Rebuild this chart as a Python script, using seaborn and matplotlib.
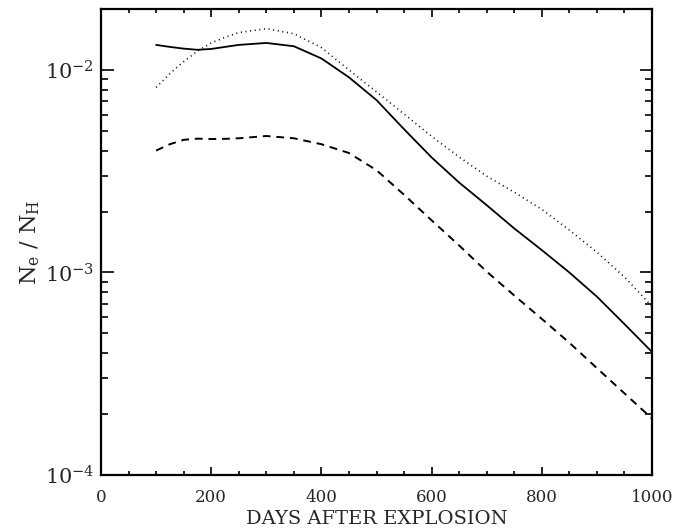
import numpy as np
import pandas as pd
import matplotlib
matplotlib.use("Agg")
import matplotlib.pyplot as plt
import matplotlib.ticker as mticker
import seaborn as sns

# values (days after explosion vs Ne/NH)
days = [100, 125, 150, 175, 200, 225, 250, 300, 350, 400, 450, 500, 550, 600,
        650, 700, 750, 800, 850, 900, 950, 1000]
solid = [0.0133, 0.0130, 0.01275, 0.01258, 0.0127, 0.0130, 0.0133, 0.0136, 0.0131,
         0.0114, 0.0092, 0.0071, 0.0051, 0.0037, 0.00278, 0.00215, 0.00165,
         0.00129, 0.00100, 0.00076, 0.000556, 0.000405]
dotted = [0.0082, 0.0096, 0.0110, 0.0124, 0.0136, 0.0145, 0.0153, 0.0160, 0.0151,
          0.0129, 0.0100, 0.0078, 0.00606, 0.0047, 0.00372, 0.00299, 0.00249,
          0.00205, 0.00162, 0.00126, 0.00095, 0.00068]
dashed = [0.0040, 0.0043, 0.00452, 0.00458, 0.00456, 0.00457, 0.0046, 0.00472, 0.0046,
          0.0043, 0.00389, 0.0032, 0.00242, 0.00181, 0.00136, 0.00101, 0.00077,
          0.00059, 0.00045, 0.000337, 0.000253, 0.00019]

sns.set_style("ticks")
plt.rcParams['font.family'] = ['DejaVu Serif']
plt.rcParams['mathtext.fontset'] = 'dejavuserif'

df = pd.DataFrame({'days': days, 'solid': solid, 'dotted': dotted, 'dashed': dashed})

fig = plt.figure(figsize=(6.84, 5.31), dpi=100)
ax = fig.add_axes([0.1477, 0.1055, 0.8055, 0.8775])

sns.lineplot(data=df, x='days', y='solid', ax=ax, color='black', lw=1.3)
sns.lineplot(data=df, x='days', y='dotted', ax=ax, color='black', lw=1.2,
             linestyle=(0, (0.6, 2.2)))
sns.lineplot(data=df, x='days', y='dashed', ax=ax, color='black', lw=1.4,
             linestyle=(0, (4, 3)))

ax.set_yscale('log')
ax.set_xlim(0, 1000)
ax.set_ylim(1e-4, 2e-2)

ax.xaxis.set_major_locator(mticker.MultipleLocator(200))
ax.xaxis.set_minor_locator(mticker.MultipleLocator(50))
ax.yaxis.set_major_locator(mticker.LogLocator(base=10, numticks=10))
ax.yaxis.set_minor_locator(mticker.LogLocator(base=10, subs=np.arange(2, 10), numticks=20))
ax.yaxis.set_minor_formatter(mticker.NullFormatter())
ax.yaxis.set_major_formatter(mticker.FuncFormatter(
    lambda v, p: r'$10^{%d}$' % int(round(np.log10(v)))))

ax.tick_params(axis='both', which='both', direction='in', top=True, right=True,
               width=1.2, color='black')
ax.tick_params(axis='x', which='major', length=6, labelsize=12, pad=10)
ax.tick_params(axis='x', which='minor', length=3)
ax.tick_params(axis='y', which='major', length=9, labelsize=15, pad=5)
ax.tick_params(axis='y', which='minor', length=5)

for sp in ax.spines.values():
    sp.set_linewidth(1.6)
    sp.set_color('black')

ax.set_xlabel('DAYS AFTER EXPLOSION', fontsize=14, labelpad=3)
ax.set_ylabel(r'$\mathrm{N_e\ /\ N_H}$', fontsize=16, labelpad=2)

fig.savefig('out.png', dpi=100)
